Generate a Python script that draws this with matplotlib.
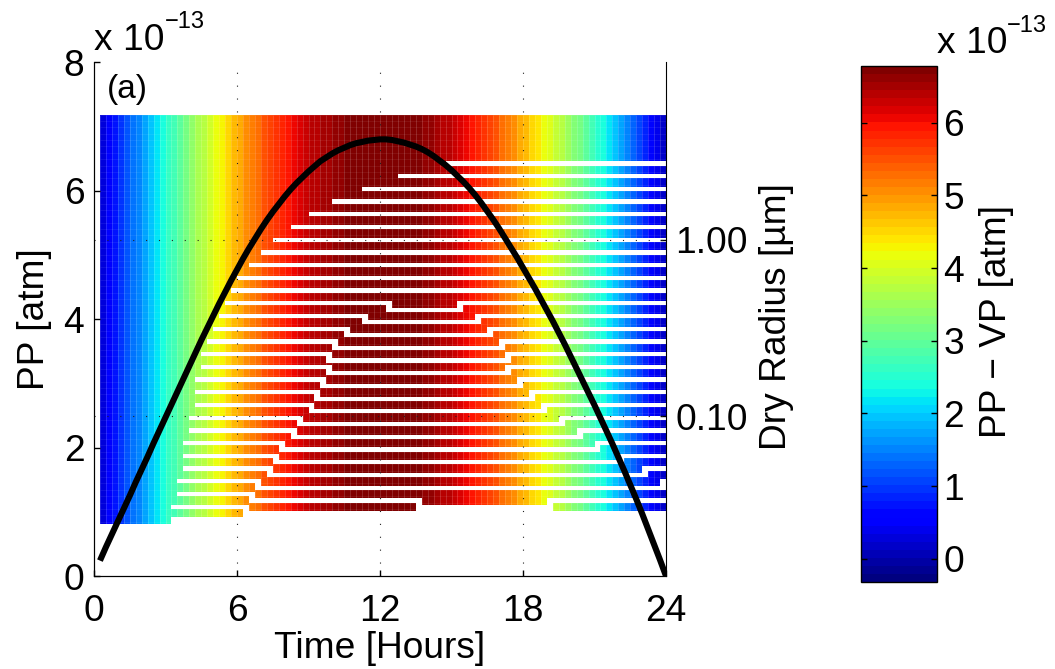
import numpy as np
import matplotlib
matplotlib.use('Agg')
import matplotlib.pyplot as plt
from matplotlib.ticker import NullLocator

plt.rcParams['font.family'] = ['Liberation Sans', 'DejaVu Sans']

# Time in hours, one value every 15 min, and PP in units of 1e-13 atm
pp = np.array([
    0.24, 0.45, 0.65, 0.85, 1.05, 1.25, 1.46, 1.66, 1.86, 2.07, 2.27, 2.47,
    2.67, 2.87, 3.07, 3.27, 3.47, 3.67, 3.86, 4.05, 4.24, 4.42, 4.60, 4.77,
    4.94, 5.10, 5.25, 5.40, 5.54, 5.67, 5.79, 5.91, 6.02, 6.12, 6.21, 6.30,
    6.38, 6.46, 6.52, 6.58, 6.63, 6.67, 6.71, 6.74, 6.76, 6.78, 6.79, 6.80,
    6.80, 6.79, 6.77, 6.75, 6.72, 6.69, 6.65, 6.60, 6.54, 6.47, 6.40, 6.32,
    6.23, 6.14, 6.04, 5.93, 5.81, 5.68, 5.55, 5.41, 5.26, 5.11, 4.96, 4.80,
    4.64, 4.48, 4.31, 4.14, 3.97, 3.79, 3.61, 3.42, 3.23, 3.04, 2.85, 2.66,
    2.46, 2.26, 2.06, 1.85, 1.64, 1.42, 1.20, 0.97, 0.73, 0.49, 0.25, 0.0])
time_edges = np.arange(1, 97) * 0.25

# First column of each empty size bin, from the top bin down
gap_start = [58, 50, 44, 39, 35, 32, 29, 27, 25, 23, 22, 21, 20, 19, 18, 17, 17,
             16, 16, 16, 15, 15, 14, 14, 14, 13, 13, 12]
# Columns where bins 11 to 27 step down and (up to bin 25) back up again
step_down = [49, 45, 42, 40, 39, 39, 38, 37, 36, 34, 33, 31, 30, 29, 27, 26, 25]
step_up = [60, 63, 65, 67, 68, 68, 70, 72, 74, 77, 80, 83, 87, 91, 94]

time_ticks = [0, 6, 12, 18, 24]
pp_ticks = [0, 2, 4, 6, 8]
radius_ticks = [0.1, 1.0]
radius_labels = ['0.10', '1.00']
cbar_ticks = [0, 1, 2, 3, 4, 5, 6]

W, H = 1055, 669
n_rows, n_cols = 193, 95
fs = 26.7


def caja(izq, der, arr, aba):
    return [izq / W, 1 - aba / H, (der - izq) / W, (aba - arr) / H]


def texto(x, y, s, **kw):
    fig.text(x / W, 1 - y / H, s, **kw)


# Colour only depends on the time column, gaps are cut out of it
valores = (pp[:-1] + pp[1:]) / 2
z = np.tile(valores, (n_rows, 1))
hueco = np.zeros((n_rows, n_cols), dtype=bool)

for k, ini in enumerate(gap_start):
    u = 22 + 6 * k
    if k < 11:
        hueco[u:u + 2, ini:] = True
        continue
    baja = step_down[k - 11]
    hueco[u:u + 2, ini:baja] = True
    hueco[u:u + 5, baja - 1] = True
    if k < 26:
        sube = step_up[k - 11]
        hueco[u + 3:u + 5, baja - 1:sube + 1] = True
        hueco[u:u + 5, sube] = True
        hueco[u:u + 2, sube:] = True

# Bottom two bins are broken up
hueco[181:183, 25:54] = True
hueco[181:, 53] = True
hueco[184:, 54:75] = True
hueco[181:, 75] = True
hueco[181:183, 75:] = True
hueco[184:, 24] = True
hueco[187:, 25:] = True
hueco[190:, 12:24] = True

z = np.ma.array(z, mask=hueco)
radius_edges = np.geomspace(5.138, 0.02455, n_rows + 1)

fig = plt.figure(figsize=(W / 100, H / 100), dpi=100)

# Radius axis (log) holds the coloured cells
ax_r = fig.add_axes(caja(94, 666, 62.3, 576))
cmap = plt.get_cmap('jet', 64)
malla = ax_r.pcolormesh(time_edges, radius_edges, z, cmap=cmap, vmin=-0.32, vmax=6.78,
                        shading='flat', antialiased=False, zorder=1)
ax_r.vlines(time_edges, radius_edges[-1], radius_edges[0], colors='white', alpha=0.18,
            linewidth=0.6, zorder=2)
ax_r.hlines(radius_edges[::3], time_edges[0], time_edges[-1], colors='white', alpha=0.08,
            linewidth=0.6, zorder=2)
ax_r.set_yscale('log')
ax_r.set_xlim(0, 24)
ax_r.set_ylim(0.0124, 10.18)
ax_r.set_xticks(time_ticks)
ax_r.set_xticklabels([])
ax_r.yaxis.tick_right()
ax_r.yaxis.set_minor_locator(NullLocator())
ax_r.set_yticks(radius_ticks)
ax_r.set_yticklabels(radius_labels, fontsize=fs)
ax_r.tick_params(axis='y', which='major', direction='in', length=4, width=1, pad=6.5)
ax_r.tick_params(axis='x', length=0)
ax_r.spines['top'].set_visible(False)

# Sparse dotted grid, on top of the cells
for t in time_ticks[1:-1]:
    ax_r.axvline(t, color='#222222', lw=0.8, ls=(0, (1, 10.6)), zorder=3)
for r in radius_ticks:
    ax_r.axhline(r, color='#222222', lw=0.8, ls=(0, (1, 10.6)), zorder=3)

# Linear PP axis with the black curve
ax = fig.add_axes(caja(94, 666, 62.3, 576))
ax.patch.set_visible(False)
ax.plot(time_edges, pp, color='black', lw=4.4, solid_capstyle='butt')
ax.set_ylim(0, 8)
ax.set_xlim(0, 24)
ax.set_xticks(time_ticks)
ax.set_yticks(pp_ticks)
ax.tick_params(axis='both', labelsize=fs, direction='in', length=4, width=1)
ax.tick_params(axis='x', pad=13)
ax.tick_params(axis='y', pad=7)
ax.spines['top'].set_visible(False)
ax.spines['right'].set_visible(False)

# Colour bar
cax = fig.add_axes(caja(861, 937, 66, 582))
cb = fig.colorbar(malla, cax=cax)
cb.set_ticks(cbar_ticks)
cb.ax.minorticks_off()
cax.tick_params(labelsize=fs, direction='in', left=True, right=True, length=4, width=1, pad=4.5)
cb.outline.set_linewidth(1)

texto(107, 98, '(a)', fontsize=24)
texto(94, 50, 'x 10', fontsize=fs)
texto(165, 28, '\u221213', fontsize=17)
texto(937, 53, 'x 10', fontsize=fs)
texto(1007, 31.7, '\u221213', fontsize=17)
texto(380, 648, 'Time [Hours]', fontsize=fs, ha='center', va='center')
texto(35, 319, 'PP [atm]', fontsize=fs, rotation=90, ha='center', va='center')
texto(776, 317, 'Dry Radius [\u00b5m]', fontsize=fs, rotation=90, ha='center', va='center')
texto(996, 322, 'PP \u2212 VP [atm]', fontsize=fs, rotation=90, ha='center', va='center')

fig.savefig('out.png', dpi=100)
